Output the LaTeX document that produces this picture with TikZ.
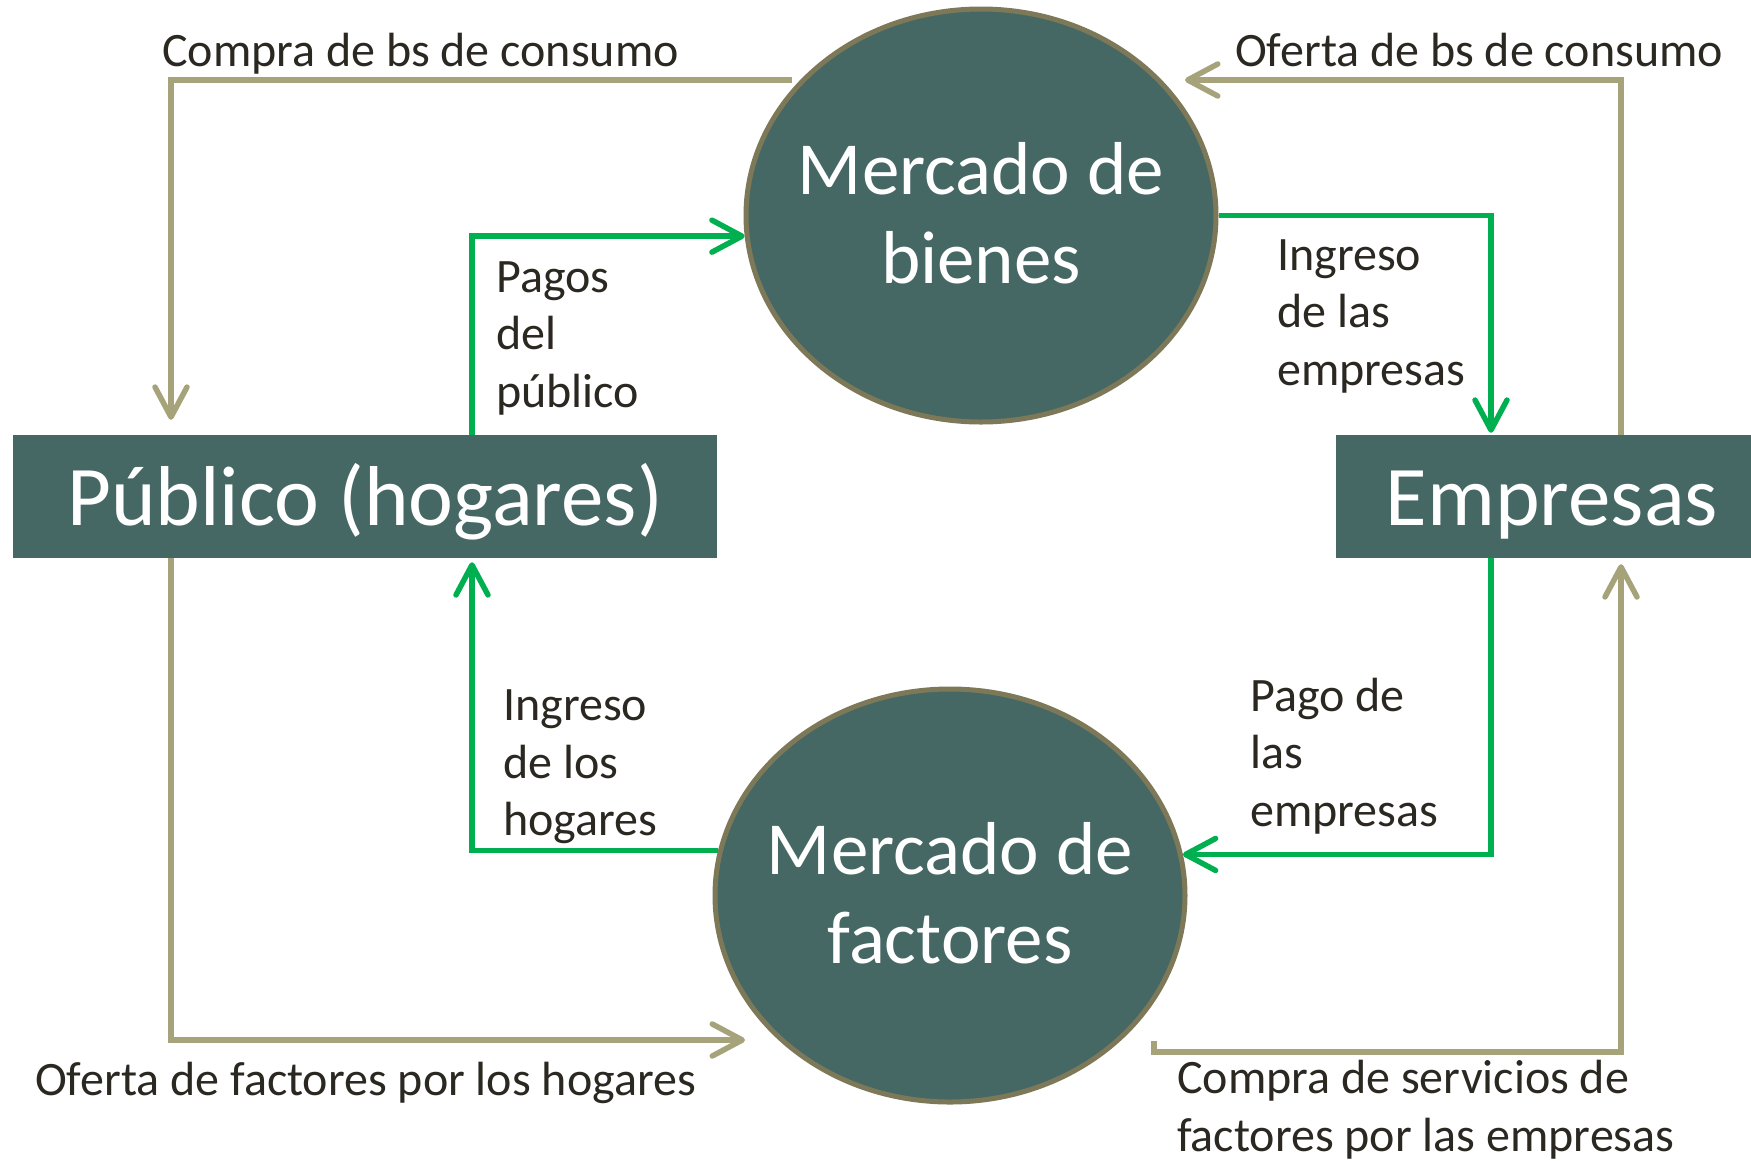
\documentclass[tikz,border=0pt]{standalone}
\usepackage{fontspec}
\setmainfont{Carlito}
\usetikzlibrary{arrows.meta,shapes.geometric,calc}
\definecolor{dteal}{RGB}{70,104,101}
\definecolor{khaki}{RGB}{166,163,123}
\definecolor{rim}{RGB}{125,121,88}
\definecolor{gr}{RGB}{0,176,80}
\definecolor{ink}{RGB}{43,40,34}
\pgfdeclareradialshading{bgshade}{\pgfpoint{4bp}{4bp}}{color(0bp)=(white);color(40bp)=(white);color(55bp)=(black!10);color(72bp)=(black!26)}
\tikzset{
  kh/.style={draw=khaki, line width=5.5pt, -{Straight Barb[length=30pt,width=32pt,round]}},
  gn/.style={draw=gr, line width=5.5pt, -{Straight Barb[length=30pt,width=32pt,round]}},
  boxst/.style={rectangle, fill=dteal, draw=none, inner sep=0pt},
  ell/.style={ellipse, draw=rim, line width=5pt, fill=dteal, minimum width=470pt, minimum height=413pt, inner sep=0pt},
  big/.style={text=white, font=\fontsize{85}{100}\selectfont, inner sep=0pt, anchor=base},
  mid/.style={text=white, font=\fontsize{75}{89}\selectfont, inner sep=0pt, anchor=base, align=center},
  lab/.style={text=ink, font=\fontsize{48}{57.5}\selectfont, inner sep=0pt, anchor=base west, align=left}
}
\begin{document}
\begin{tikzpicture}[x=1pt,y=-1pt]
\shade[shading=bgshade] (0,0) rectangle (1751,1160);
\useasboundingbox (0,0) rectangle (1751,1160);
% main shapes
\node[boxst, minimum width=704pt, minimum height=123pt] (pub) at (365,496.5) {};
\node[boxst, minimum width=415pt, minimum height=123pt] (emp) at (1543.5,496.5) {};
\node[ell] (mb) at (981,215.5) {};
\node[ell] (mf) at (950,895.5) {};
\node[big] (pubt) at (365,525) {Público (hogares)};
\node[big] (empt) at (1552,525) {Empresas};
\node[mid] (mbt) at (981,283) {Mercado de\\bienes};
\node[mid] (mft) at (950,963) {Mercado de\\factores};
% helper columns and free ends
\coordinate (colA) at (171,0);
\coordinate (colB) at (1621,0);
\coordinate (colC) at (472,0);
\coordinate (colD) at (1491,0);
\coordinate (c1) at (792,80);
\coordinate (c2) at (1185,80);
\coordinate (c4) at (745,1040);
\coordinate (c5) at (1154,1041);
% connectors
\draw[kh] (c1) -| ($(pub.north -| colA)+(0,-15)$);
\draw[kh] (emp.north -| colB) |- (c2);
\draw[gn] (pub.north -| colC) |- (mb.185);
\draw[gn] (mb.east) -| ($(emp.north -| colD)+(0,-2)$);
\draw[gn] (mf.169.5) -| ($(pub.south -| colC)+(0,4)$);
\draw[gn] (emp.south -| colD) |- (mf.10.5);
\draw[kh] (pub.south -| colA) |- (c4);
\draw[kh] (c5) -- ++(0,11) -| ($(emp.south -| colB)+(0,6)$);
% labels
\node[lab] (l1) at (162,66) {Compra de bs de consumo};
\node[lab] (l2) at (1235,66) {Oferta de bs de consumo};
\node[lab] (l3) at (496,407) {Pagos\\del\\público};
\node[lab] (l4) at (1277,385) {Ingreso\\de las\\empresas};
\node[lab] (l5) at (503,835.6) {Ingreso\\de los\\hogares};
\node[lab] (l6) at (1250,826) {Pago de\\las\\empresas};
\node[lab] (l7) at (35,1095) {Oferta de factores por los hogares};
\node[lab] (l8) at (1177,1151) {Compra de servicios de\\factores por las empresas};
\end{tikzpicture}
\end{document}
